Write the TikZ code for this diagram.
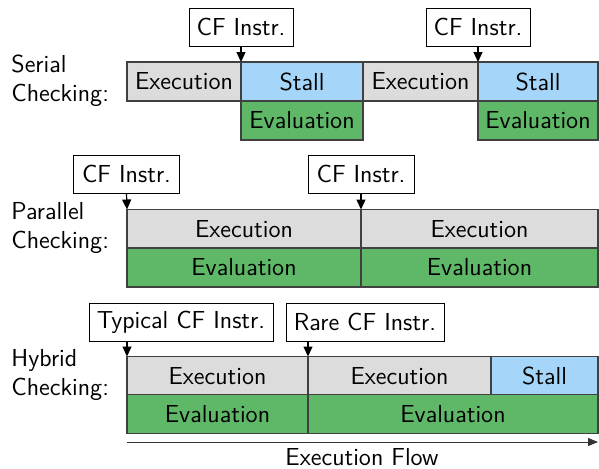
\documentclass[tikz,border=0pt]{standalone}
\usetikzlibrary{arrows.meta}
\definecolor{exegray}{RGB}{220,220,220}
\definecolor{stallblue}{RGB}{166,213,250}
\definecolor{evalgreen}{RGB}{94,184,104}
\definecolor{edge}{RGB}{64,64,64}
\begin{document}
\begin{tikzpicture}[x=0.5pt,y=-0.5pt,
  font=\sffamily\fontsize{12.3}{14.5}\selectfont,
  barbox/.style={draw=edge,line width=0.7pt,minimum height=19.5pt,inner sep=0pt,outer sep=0pt},
  exebox/.style={barbox,fill=exegray},
  stallbox/.style={barbox,fill=stallblue},
  evalbox/.style={barbox,fill=evalgreen},
  cfbox/.style={draw=black,line width=0.5pt,fill=white,minimum height=19pt,inner sep=0pt,outer sep=0pt},
  rowlabel/.style={anchor=west,align=left,inner sep=0pt},
  cfarrow/.style={-{Triangle[length=5pt,width=4.5pt]},line width=0.6pt},
  flowarrow/.style={-{Triangle[length=5pt,width=4pt]},line width=0.5pt,draw=black!80}]
\useasboundingbox (0,0) rectangle (599,468);

% Serial
\node[rowlabel] (lser) at (11,81) {Serial\\Checking:};
\node[exebox,minimum width=57pt] (sexe1) at (184,81.5) {Execution};
\node[stallbox,minimum width=61pt] (sstall1) at (302,81.5) {Stall};
\node[evalbox,minimum width=61pt] (seval1) at (302,120.5) {Evaluation};
\node[exebox,minimum width=57.5pt] (sexe2) at (420.5,81.5) {Execution};
\node[stallbox,minimum width=60pt] (sstall2) at (538,81.5) {Stall};
\node[evalbox,minimum width=60pt] (seval2) at (538,120.5) {Evaluation};
\node[cfbox,minimum width=52pt] (scf1) at (241,27) {CF Instr.};
\node[cfbox,minimum width=52pt] (scf2) at (478,27) {CF Instr.};
\draw[cfarrow] (scf1.south) -- (sexe1.north east);
\draw[cfarrow] (scf2.south) -- (sexe2.north east);

% Parallel
\node[rowlabel] (lpar) at (11,228) {Parallel\\Checking:};
\node[exebox,minimum width=117pt] (pexe1) at (244,229) {Execution};
\node[exebox,minimum width=118.5pt] (pexe2) at (479.5,229) {Execution};
\node[evalbox,minimum width=117pt] (peval1) at (244,267.5) {Evaluation};
\node[evalbox,minimum width=118.5pt] (peval2) at (479.5,267.5) {Evaluation};
\node[cfbox,minimum width=53pt] (pcf1) at (126.5,174) {CF Instr.};
\node[cfbox,minimum width=53pt] (pcf2) at (361,174) {CF Instr.};
\draw[cfarrow] (pcf1.south) -- (pexe1.north west);
\draw[cfarrow] (pcf2.south) -- (pexe1.north east);

% Hybrid
\node[rowlabel] (lhyb) at (11,375) {Hybrid\\Checking:};
\node[exebox,minimum width=90.5pt] (hexe1) at (217.5,376) {Execution};
\node[exebox,minimum width=91.5pt] (hexe2) at (399.5,376) {Execution};
\node[stallbox,minimum width=53.5pt] (hstall) at (544.5,376) {Stall};
\node[evalbox,minimum width=90.5pt] (heval1) at (217.5,414) {Evaluation};
\node[evalbox,minimum width=145pt] (heval2) at (453,414) {Evaluation};
\node[cfbox,minimum width=92pt] (htyp) at (181,322) {Typical CF Instr.};
\node[cfbox,minimum width=79pt] (hrare) at (365,322) {Rare CF Instr.};
\draw[cfarrow] (hexe1.north west |- htyp.south) -- (hexe1.north west);
\draw[cfarrow] (hexe2.north west |- hrare.south) -- (hexe2.north west);

% Flow
\coordinate (fs) at (127,442);
\coordinate (fe) at (598,442);
\draw[flowarrow] (fs) -- (fe);
\node[inner sep=0pt] (flow) at (362,457) {Execution Flow};
\end{tikzpicture}
\end{document}
